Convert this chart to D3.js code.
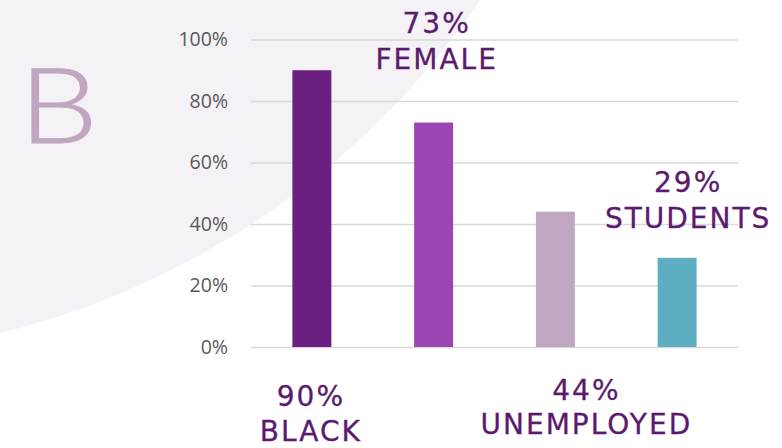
<!DOCTYPE html>
<html lang="en">
<head>
<meta charset="UTF-8">
<title>Profile bars</title>
<script src="https://d3js.org/d3.v7.min.js"></script>
<style>
  html, body { margin: 0; padding: 0; background: #fff; overflow: hidden; }
  .tick text { font-family: "Open Sans", "Liberation Sans", sans-serif; font-size: 19.5px; fill: #595959; }
  .note { font-family: "DejaVu Sans", sans-serif; font-size: 28px; fill: #5b1a6e; stroke: #5b1a6e; stroke-width: 0.3; letter-spacing: 2px; }
</style>
</head>
<body>
<svg id="chart" width="782" height="448"></svg>
<script>
// --- data ---
const categories = ["BLACK", "FEMALE", "UNEMPLOYED", "STUDENTS"];
const values = [90, 73, 44, 29];
const colors = ["#6b1f80", "#9b44b4", "#c0a6c0", "#5daec3"];
const yTicks = [0, 20, 40, 60, 80, 100];

// label placement (offset from bar centre, baselines of the two lines)
const labelDx = [-1, 3, 31, 11];
const labelY = [[406, 441], [33, 69], [400, 434], [192, 228]];

const W = 782, H = 448;
const margin = { left: 251, right: 44, top: 39.5, bottom: 101 };

const svg = d3.select("#chart");

// soft background disc in the upper left
svg.append("circle")
  .attr("cx", -196).attr("cy", -462).attr("r", 819)
  .attr("fill", "#f4f2f6");

svg.append("text")
  .attr("transform", "translate(19,143) scale(1.2,1)")
  .attr("font-family", "Lato, 'Open Sans', sans-serif")
  .attr("font-weight", 300)
  .attr("font-size", 104)
  .attr("fill", "#c0a6c0")
  .attr("stroke", "#c0a6c0")
  .attr("stroke-width", 1)
  .text("B");

const x = d3.scaleBand()
  .domain(categories)
  .range([margin.left, W - margin.right])
  .paddingInner(0.68)
  .paddingOuter(0.34);

const y = d3.scaleLinear()
  .domain([0, 100])
  .range([H - margin.bottom, margin.top]);

// gridlines + tick labels
const yAxis = d3.axisLeft(y)
  .tickValues(yTicks)
  .tickFormat(d => d + "%")
  .tickSize(-(W - margin.right - margin.left))
  .tickPadding(23);

const g = svg.append("g")
  .attr("transform", `translate(${margin.left},0)`)
  .call(yAxis);
g.select(".domain").remove();
g.selectAll(".tick line").attr("stroke", "#d9d9d9").attr("stroke-width", 1.5);

// bars
svg.append("g").selectAll("rect")
  .data(categories)
  .enter().append("rect")
  .attr("x", d => x(d))
  .attr("width", x.bandwidth())
  .attr("y", (d, i) => y(values[i]))
  .attr("height", (d, i) => y(0) - y(values[i]))
  .attr("fill", (d, i) => colors[i]);

// annotations
const notes = svg.append("g").selectAll("text")
  .data(categories)
  .enter().append("text")
  .attr("class", "note")
  .attr("text-anchor", "middle");

notes.append("tspan")
  .attr("x", (d, i) => x(d) + x.bandwidth() / 2 + labelDx[i])
  .attr("y", (d, i) => labelY[i][0])
  .text((d, i) => values[i] + "%");
notes.append("tspan")
  .attr("x", (d, i) => x(d) + x.bandwidth() / 2 + labelDx[i])
  .attr("y", (d, i) => labelY[i][1])
  .text(d => d);
</script>
</body>
</html>
